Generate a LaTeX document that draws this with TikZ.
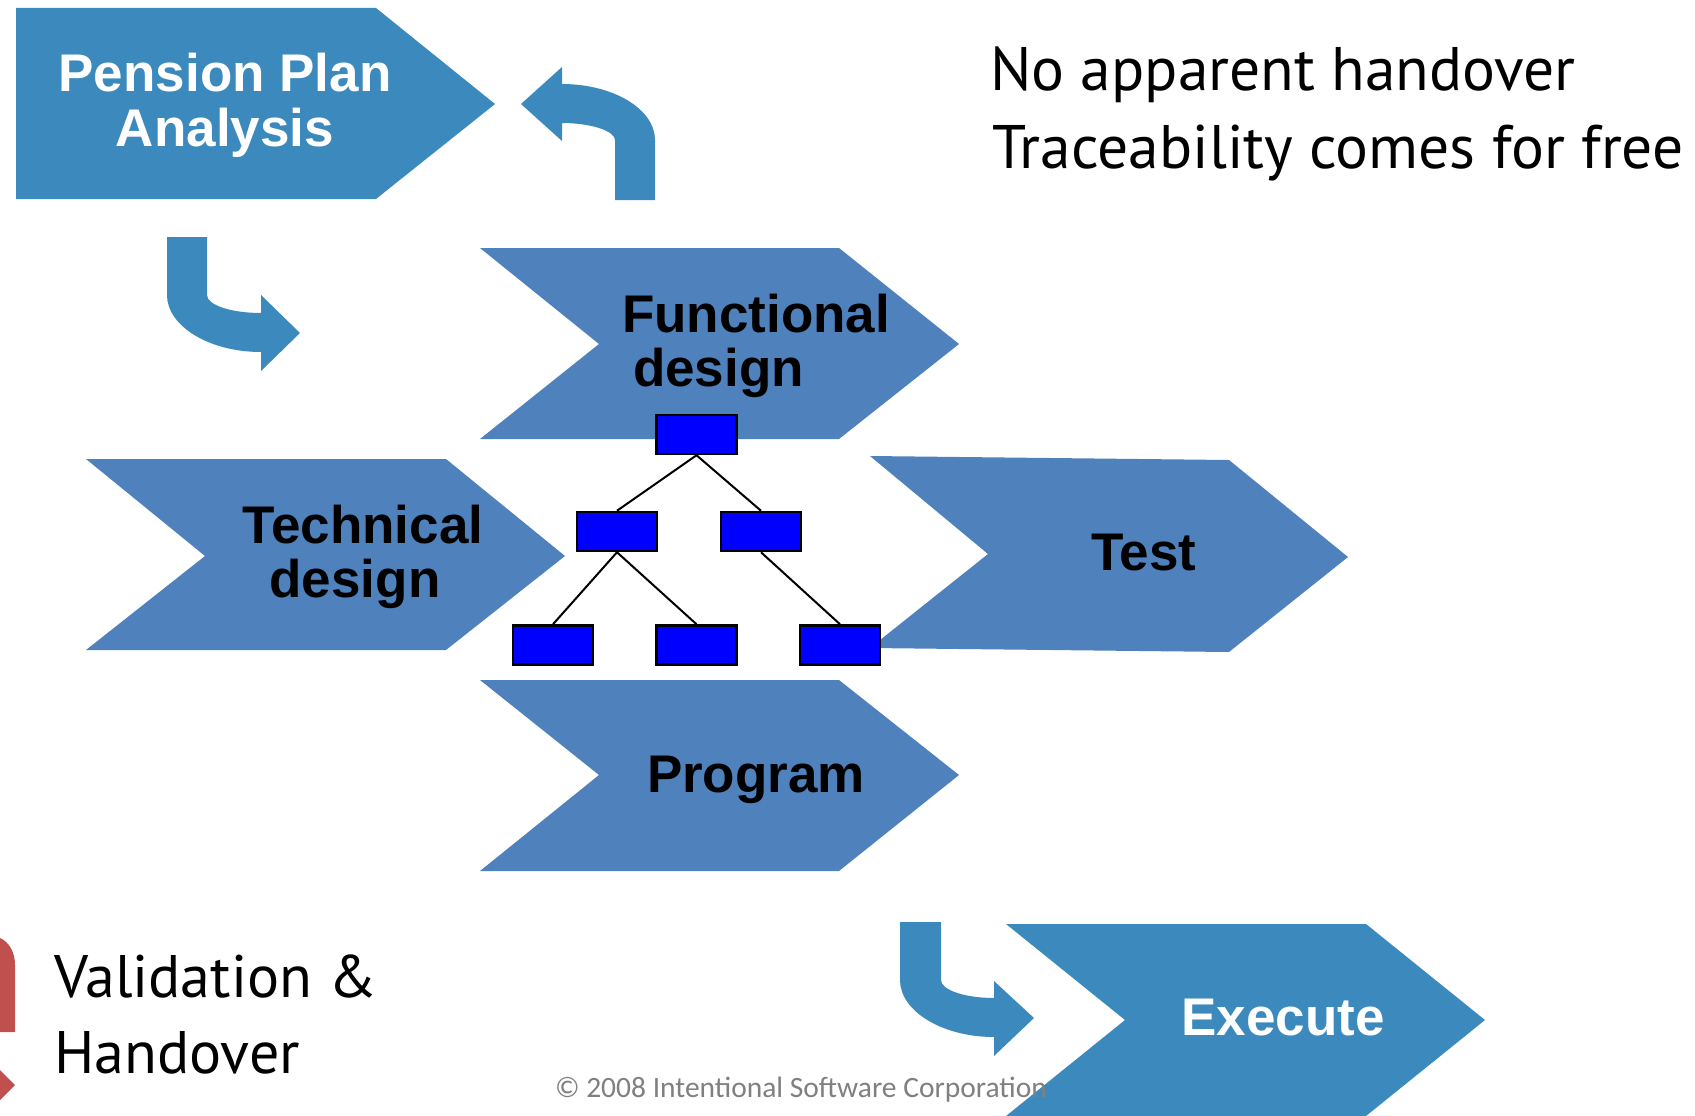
\documentclass[tikz,border=0pt]{standalone}
\usepackage{fontspec}
\setmainfont{Liberation Sans}
\newfontfamily\gillfont{PT Sans}
\newfontfamily\califont{Carlito}
\definecolor{pblue}{RGB}{60,138,189}
\definecolor{cblue}{RGB}{79,129,189}
\definecolor{rred}{RGB}{192,80,77}
\definecolor{cgray}{RGB}{128,128,128}
\definecolor{tblue}{RGB}{0,0,255}
\begin{document}
\begin{tikzpicture}[x=1pt,y=-1pt,
  chevw/.style={font=\fontsize{53}{60}\selectfont\bfseries, text=white, inner sep=0pt, anchor=base},
  chevb/.style={font=\fontsize{53}{60}\selectfont\bfseries, text=black, inner sep=0pt, anchor=base},
  gill/.style={font=\gillfont\fontsize{60}{70}\selectfont, text=black, inner sep=0pt, anchor=base west},
  gilltop/.style={gill, font=\gillfont\fontsize{61.5}{70}\selectfont},
  tbox/.style={draw=black, line width=2.5pt, fill=tblue, minimum width=80pt, minimum height=39pt, inner sep=0pt},
  tline/.style={draw=black, line width=2pt},
  parrow/.style={fill=pblue, draw=none},
]
\useasboundingbox (0,0) rectangle (1695,1116);
\fill[white] (0,0) rectangle (1695,1116);

% chevrons
\fill[pblue] (16,8) -- (376,8) -- (495,104) -- (376,199) -- (16,199) -- cycle;
\fill[cblue] (480,248) -- (839,248) -- (959,344) -- (839,439) -- (480,439) -- (599,344) -- cycle;
\fill[cblue] (86,459) -- (446,459) -- (565,556) -- (446,650) -- (86,650) -- (205,556) -- cycle;
\fill[cblue] (870,456) -- (1229,460) -- (1348,557) -- (1229,652) -- (870,648) -- (988,554) -- cycle;
\fill[cblue] (480,680) -- (839,680) -- (959,775) -- (839,871) -- (480,871) -- (599,775) -- cycle;
\fill[pblue] (1006,924) -- (1366,924) -- (1485,1020) -- (1366,1116) -- (1006,1116) -- (1125,1020) -- cycle;

% curved arrows
\fill[parrow] (655,200) -- (655,140) .. controls (655,109) and (613,84) .. (562,84)
  -- (562,67) -- (521,104) -- (562,141) -- (562,123)
  .. controls (591,123) and (615,131) .. (615,140) -- (615,200) -- cycle;
\fill[parrow] (167,237) -- (207,237) -- (207,295) .. controls (207,305) and (231,313) .. (261,313)
  -- (261,295) -- (300,333) -- (261,371) -- (261,352)
  .. controls (209,352) and (167,326) .. (167,295) -- cycle;
\fill[parrow] (900,922) -- (941,922) -- (941,980) .. controls (941,990) and (965,998) .. (994,998)
  -- (994,981) -- (1034,1018) -- (994,1056) -- (994,1037)
  .. controls (942,1037) and (900,1011) .. (900,980) -- cycle;

% red partial arrow
\fill[rred] (0,938) .. controls (9,942) and (15,952) .. (15,965) -- (15,1032) -- (0,1032) -- cycle;
\fill[rred] (0,1070) -- (15,1085) -- (0,1100) -- cycle;

% tree
\node[tbox] (t0) at (696.5,434.5) {};
\node[tbox] (t1) at (617,531.5) {};
\node[tbox] (t2) at (761,531.5) {};
\node[tbox] (t3) at (553,645) {};
\node[tbox] (t4) at (696.5,645) {};
\node[tbox] (t5) at (840,645) {};
\draw[tline] (t0.south) -- (t1.north);
\draw[tline] (t0.south) -- (t2.north);
\draw[tline] (t1.south) -- (t3.north);
\draw[tline] (t1.south) -- (t4.north);
\draw[tline] (t2.south) -- (t5.north);
\node[tbox] at (t0) {};
\node[tbox] at (t1) {};
\node[tbox] at (t2) {};
\node[tbox] at (t3) {};
\node[tbox] at (t4) {};
\node[tbox] at (t5) {};

% chevron texts
\node[chevw] (pen1) at (225,92) {Pension Plan};
\node[chevw] (pen2) at (225,146) {Analysis};
\node[chevb] (fun1) at (756,332) {Functional};
\node[chevb] (fun2) at (718.5,386) {design};
\node[chevb] (tec1) at (363,543) {Technical};
\node[chevb] (tec2) at (355,597) {design};
\node[chevb] (test) at (1144,570) {Test};
\node[chevb] (prog) at (756,792) {Program};
\node[chevw] (exec) at (1283,1035) {Execute};

% plain texts
\node[gilltop] (no) at (990,91) {No apparent handover};
\node[gilltop] (trace) at (992,168) {Traceability comes for free};
\node[gill] (val) at (54,997) {Validation \&};
\node[gill] (hand) at (54,1073) {Handover};
\node[font=\califont\fontsize{29.5}{34}\selectfont, text=cgray, inner sep=0pt, anchor=base] (copy) at (801,1097) {© 2008 Intentional Software Corporation};
\end{tikzpicture}
\end{document}
